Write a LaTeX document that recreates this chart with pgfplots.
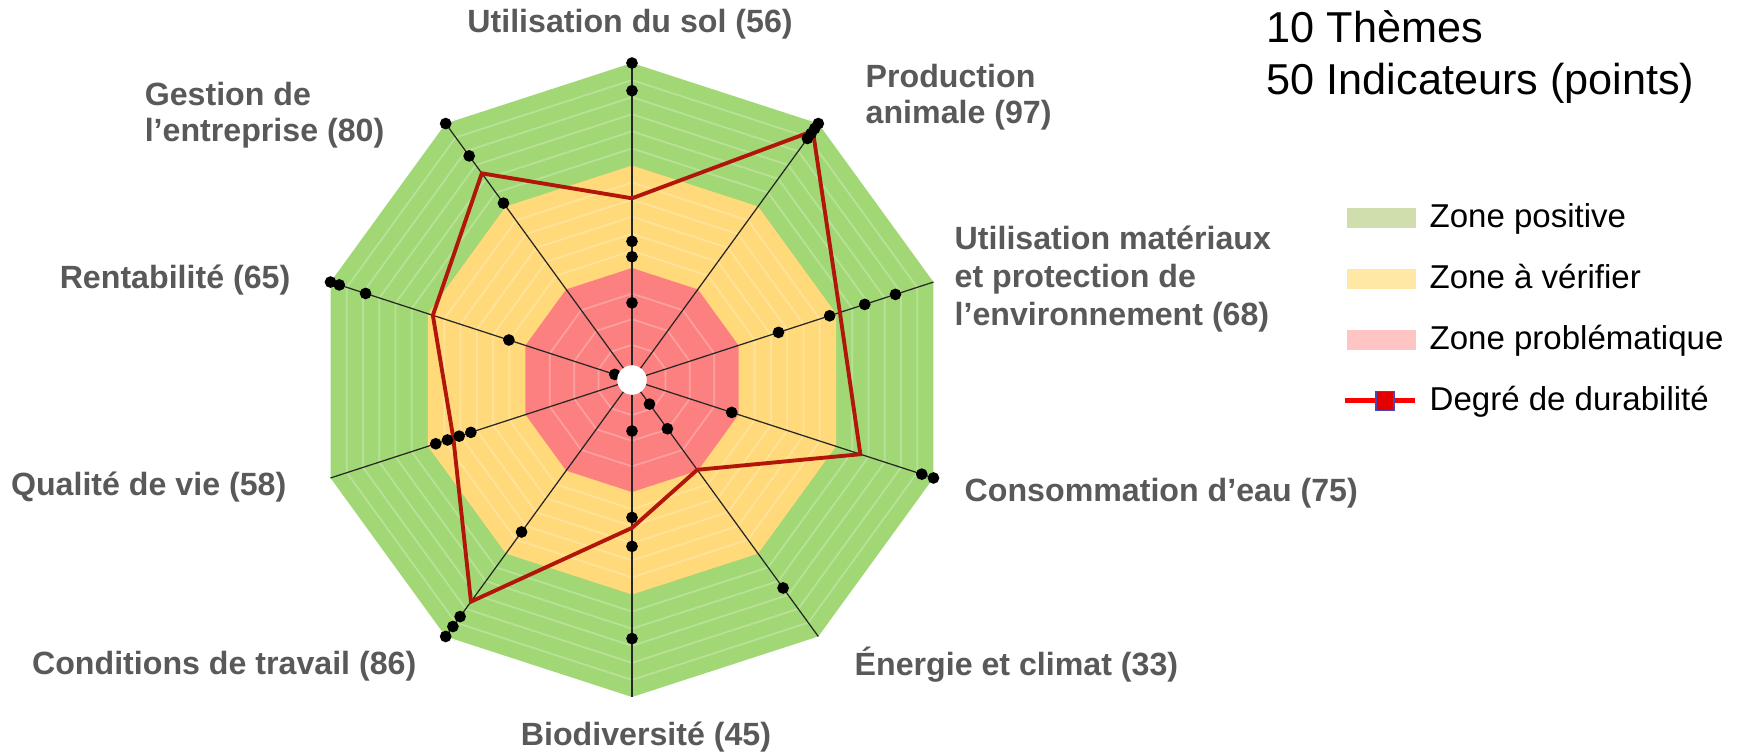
\documentclass[border=0pt]{standalone}
\usepackage{fontspec}
\setmainfont{Liberation Sans}
\usepackage{pgfplots}
\pgfplotsset{compat=1.18}
\usepgfplotslibrary{polar}

\definecolor{zgreen}{RGB}{161,216,117}
\definecolor{zyellow}{RGB}{255,217,122}
\definecolor{zred}{RGB}{252,128,128}
\definecolor{lgreen}{RGB}{207,222,172}
\definecolor{lyellow}{RGB}{255,232,166}
\definecolor{lred}{RGB}{255,196,196}
\definecolor{durab}{RGB}{178,22,10}
\definecolor{lblgray}{RGB}{89,89,89}

\begin{document}
\begin{tikzpicture}
\path[use as bounding box] (-63.2mm,-37.5mm) rectangle (110.5mm,38mm);

\begin{polaraxis}[
  at={(0,0)}, anchor=center,
  scale only axis, width=63.4mm, height=63.4mm,
  xmin=0, xmax=360, ymin=-3.0928, ymax=100,
  y coord trafo/.code={\pgfmathparse{0.97*#1+3}},
  y coord inv trafo/.code={\pgfmathparse{(#1-3)/0.97}},
  hide axis, clip=false,
  legend style={at={(1.6195,0.805)}, anchor=north west, draw=none, fill=none,
    font=\fontsize{9.4}{11}\selectfont, row sep=0pt, inner sep=0pt,
    nodes={inner ysep=1.4mm, text height=2.6mm, text depth=0.7mm}},
  legend cell align=left,
]
% zones
\addplot[fill=zgreen, draw=none, forget plot] coordinates {
  (90,100) (54,100) (18,100) (342,100) (306,100) (270,100) (234,100) (198,100) (162,100) (126,100) (90,100)};
\addplot[fill=zyellow, draw=none, forget plot] coordinates {
  (90,66.67) (54,66.67) (18,66.67) (342,66.67) (306,66.67) (270,66.67) (234,66.67) (198,66.67) (162,66.67) (126,66.67) (90,66.67)};
\addplot[fill=zred, draw=none, forget plot] coordinates {
  (90,33.33) (54,33.33) (18,33.33) (342,33.33) (306,33.33) (270,33.33) (234,33.33) (198,33.33) (162,33.33) (126,33.33) (90,33.33)};
% faint rings
\pgfplotsinvokeforeach{8.33,16.67,25,38.89,44.44,50,55.56,61.11,72.22,77.78,83.33,88.89,94.44}{
  \addplot[white, opacity=0.25, line width=0.5pt, forget plot] coordinates {
    (90,#1) (54,#1) (18,#1) (342,#1) (306,#1) (270,#1) (234,#1) (198,#1) (162,#1) (126,#1) (90,#1)};
}
% spokes
\pgfplotsinvokeforeach{90,54,18,342,306,270,234,198,162,126}{
  \addplot[black!85, line width=0.35pt, forget plot] coordinates {(#1,0) (#1,100)};
}
% sustainability degree
\addplot[durab, line width=1.1pt, forget plot] coordinates {
  (90,56) (54,97) (18,68) (342,75) (306,33) (270,45) (234,86) (198,58) (162,65) (126,80) (90,56)};
% indicators
\addplot[only marks, mark=*, mark size=1.45pt, black, forget plot] coordinates {
  (90,100) (90,91) (90,42) (90,37) (90,22)
  (54,100) (54,98) (54,96) (54,94)
  (18,87) (18,76.5) (18,64.5) (18,47)
  (342,100) (342,96) (342,31)
  (306,6.6) (306,16.5) (306,80.5)
  (270,13.5) (270,41.6) (270,51) (270,81)
  (234,58) (234,92) (234,96) (234,100)
  (198,52) (198,56) (198,60) (198,64)
  (162,100) (162,97) (162,88) (162,39) (162,2.8)
  (126,100) (126,87) (126,68)
};
\addplot[only marks, mark=*, mark size=4pt, white, forget plot] coordinates {(0,-3.0928)};

\addlegendimage{legend image code/.code={\fill[lgreen] (0mm,-0.9mm) rectangle (6.7mm,0.9mm); \path (7.4mm,0mm);}}
\addlegendentry{Zone positive}
\addlegendimage{legend image code/.code={\fill[lyellow] (0mm,-0.9mm) rectangle (6.7mm,0.9mm); \path (7.4mm,0mm);}}
\addlegendentry{Zone à vérifier}
\addlegendimage{legend image code/.code={\fill[lred] (0mm,-0.9mm) rectangle (6.7mm,0.9mm); \path (7.4mm,0mm);}}
\addlegendentry{Zone problématique}
\addlegendimage{legend image code/.code={
  \draw[red, line width=1.4pt] (-0.3mm,0mm) -- (6.7mm,0mm);
  \filldraw[fill=red!90!black, draw=blue!45!gray, line width=0.4pt] (2.8mm,-0.95mm) rectangle (4.6mm,0.95mm);
  \path (7.4mm,0mm);}}
\addlegendentry{Degré de durabilité}
\end{polaraxis}

\begin{scope}[every node/.style={inner sep=0pt, text=lblgray, font=\fontsize{9.15}{10.4}\selectfont\bfseries}]
\node[anchor=center] at (-0.2mm,35.6mm) {Utilisation du sol (56)};
\node[anchor=west, align=left] at (23.3mm,28.3mm) {Production\\animale (97)};
\node[anchor=west, align=left, font=\fontsize{9.15}{10.9}\selectfont\bfseries] at (32.2mm,10.1mm) {Utilisation matériaux\\et protection de\\l’environnement (68)};
\node[anchor=west] at (33.2mm,-11.3mm) {Consommation d’eau (75)};
\node[anchor=west] at (22.2mm,-28.5mm) {Énergie et climat (33)};
\node[anchor=center] at (1.4mm,-35.7mm) {Biodiversité (45)};
\node[anchor=east] at (-21.5mm,-28.6mm) {Conditions de travail (86)};
\node[anchor=east] at (-34.5mm,-10.7mm) {Qualité de vie (58)};
\node[anchor=east] at (-34.1mm,10.0mm) {Rentabilité (65)};
\node[anchor=east, align=left] at (-24.7mm,26.5mm) {Gestion de\\l’entreprise (80)};
\end{scope}
\node[anchor=west, align=left, inner sep=0pt, font=\fontsize{12.3}{14.8}\selectfont] at (63.4mm,32.3mm) {10 Thèmes\\50 Indicateurs (points)};
\end{tikzpicture}
\end{document}
